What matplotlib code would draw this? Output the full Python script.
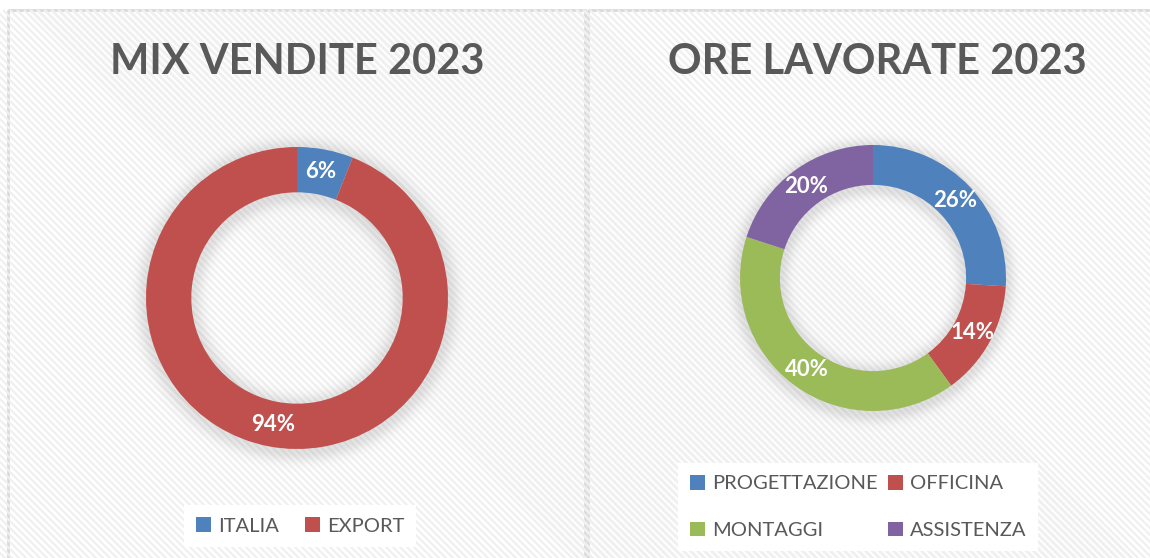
import numpy as np
import matplotlib
matplotlib.use("Agg")
import matplotlib.pyplot as plt
from matplotlib.patches import Rectangle, Patch
from matplotlib.collections import LineCollection

# ---------------- data ----------------
left_title = "MIX VENDITE 2023"
left_labels = ["ITALIA", "EXPORT"]
left_values = [6, 94]
left_colors = ["#4f81bd", "#c0504d"]

right_title = "ORE LAVORATE 2023"
right_labels = ["PROGETTAZIONE", "OFFICINA", "MONTAGGI", "ASSISTENZA"]
right_values = [26, 14, 40, 20]
right_colors = ["#4f81bd", "#c0504d", "#9bbb59", "#8064a2"]

FONT = ["Lato", "DejaVu Sans"]
TXT = "#595959"

W, H = 1150, 558
fig = plt.figure(figsize=(W / 100, H / 100), dpi=100)
fig.patch.set_facecolor("white")


def px_rect(x0, y0, x1, y1):
    return [x0 / W, 1 - y1 / H, (x1 - x0) / W, (y1 - y0) / H]


# panel backgrounds with faint diagonal stripes
bg = fig.add_axes([0, 0, 1, 1])
bg.set_xlim(0, W)
bg.set_ylim(H, 0)
bg.axis("off")
period = 7.0
for (x0, x1) in [(8, 585), (588, 1152)]:
    rect = Rectangle((x0, 10), x1 - x0, H, facecolor="white", lw=0)
    bg.add_patch(rect)
    starts = np.arange(x0 - H, x1 + 1, period)
    segs = [[(s, 10), (s + H, 10 + H)] for s in starts]
    lc = LineCollection(segs, colors="#f0f0f0", linewidths=1.6)
    lc.set_clip_path(rect)
    bg.add_collection(lc)
    bg.add_patch(Rectangle((x0, 10), x1 - x0, H, facecolor="none",
                           edgecolor="#d9d9d9", lw=2))


def donut(cx, cy, R, values, colors, labels, title, tx, ty, leg_center, order, colsp):
    # soft shadow around the ring
    sax = fig.add_axes(px_rect(cx - R * 1.3, cy - R * 1.3, cx + R * 1.3, cy + R * 1.3))
    sax.axis("off")
    n = 400
    g = np.linspace(-1.3, 1.3, n)
    X, Y = np.meshgrid(g, g)
    Y = Y + 0.02
    r = np.sqrt(X ** 2 + Y ** 2)
    inner = 0.70
    d = np.where(r > 1, r - 1, np.where(r < inner, inner - r, 0))
    alpha = 0.20 * np.exp(-(d / 0.07) ** 2)
    img = np.zeros((n, n, 4))
    img[..., :3] = 0.45
    img[..., 3] = alpha
    sax.imshow(img, extent=(-1.3, 1.3, -1.3, 1.3), origin="lower")
    sax.set_xlim(-1.3, 1.3)
    sax.set_ylim(-1.3, 1.3)

    ax = fig.add_axes(px_rect(cx - R, cy - R, cx + R, cy + R))
    ax.pie(
        values, colors=colors, startangle=90, counterclock=False, radius=1,
        wedgeprops=dict(width=0.30, edgecolor="none"),
        autopct=lambda p: f"{p:.0f}%", pctdistance=0.85,
        textprops=dict(color="white", fontsize=16, fontweight="bold", family=FONT))
    ax.set_xlim(-1, 1)
    ax.set_ylim(-1, 1)
    ax.set_aspect("equal")
    ax.axis("off")

    fig.text(tx / W, 1 - ty / H, title, ha="center", va="center",
             fontsize=30, fontweight="bold", color=TXT, family=FONT)

    handles = [Patch(facecolor=c, edgecolor="none", label=l) for c, l in zip(colors, labels)]
    handles = [handles[i] for i in order]
    lx, ly = leg_center
    leg = fig.legend(handles=handles, ncol=2, loc="center",
                     bbox_to_anchor=(lx / W, 1 - ly / H),
                     frameon=True, fancybox=False, framealpha=1,
                     handlelength=0.75, handleheight=0.75, handletextpad=0.35,
                     columnspacing=colsp, labelspacing=1.45, borderpad=0.6,
                     prop=dict(family=FONT, size=14.5))
    leg.get_frame().set_facecolor("white")
    leg.get_frame().set_edgecolor("none")
    for t in leg.get_texts():
        t.set_color(TXT)


donut(297, 298, 151, left_values, left_colors, left_labels, left_title,
      297, 62, (300, 526), [0, 1], 1.3)
donut(873, 278, 133, right_values, right_colors, right_labels, right_title,
      877, 62, (858, 507), [0, 2, 1, 3], 0.5)

fig.savefig("out.png", dpi=100, facecolor="white")
